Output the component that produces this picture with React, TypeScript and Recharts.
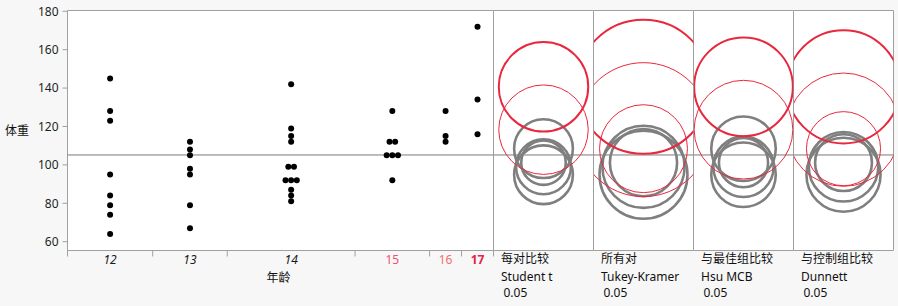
import React from 'react';
import {
  ComposedChart,
  Scatter,
  XAxis,
  YAxis,
  ReferenceLine,
  ReferenceArea,
  CartesianGrid,
  Label,
} from 'recharts';

// ---------- data ----------
const ages = ['12', '13', '14', '15', '16', '17'];
const weights12 = [145, 128, 123, 95, 84, 79, 74, 64];
const weights13 = [112, 108, 105, 98, 95, 79, 67];
const weights14 = [142, 119, 115, 112, 99, 99, 92, 92, 92, 87, 84, 81];
const weights15 = [128, 112, 112, 105, 105, 105, 92];
const weights16 = [128, 115, 112];
const weights17 = [172, 134, 116];
const weightsByAge = [weights12, weights13, weights14, weights15, weights16, weights17];

const yTicks = [60, 80, 100, 120, 140, 160, 180];
const yMin = 55.4;
const yMax = 180.4;

const panelTitles = ['每对比较', '所有对', '与最佳组比较', '与控制组比较'];
const panelMethods = ['Student t', 'Tukey-Kramer', 'Hsu MCB', 'Dunnett'];
const panelAlpha = ['0.05', '0.05', '0.05', '0.05'];

// circle radii (weight units), per age group
const radiusStudent = [14.3, 15.3, 11.6, 15.3, 23.3, 23.3];
const radiusTukey = [21.4, 22.9, 17.5, 22.9, 34.9, 34.9];
const radiusHsu = [15.7, 16.8, 12.8, 16.8, 25.7, 25.7];
const radiusDunnett = [18.1, 19.3, 14.8, 19.3, 29.5, 29.5];
const panelRadii = [radiusStudent, radiusTukey, radiusHsu, radiusDunnett];

// circle state per age group: gray = significantly different, thin = not different, thick = selected
const statusStudent = ['gray', 'gray', 'gray', 'gray', 'thin', 'thick'];
const statusTukey = ['gray', 'gray', 'gray', 'thin', 'thin', 'thick'];
const statusHsu = ['gray', 'gray', 'gray', 'gray', 'thin', 'thick'];
const statusDunnett = ['gray', 'gray', 'gray', 'thin', 'thin', 'thick'];
const panelStatus = [statusStudent, statusTukey, statusHsu, statusDunnett];

// ---------- styles ----------
const labelColors = ['#1a1a1a', '#1a1a1a', '#1a1a1a', '#F0506E', '#F07070', '#E8204A'];
const labelStyles = ['italic', 'italic', 'italic', 'normal', 'normal', 'normal'];
const labelWeights = ['normal', 'normal', 'normal', 'normal', 'normal', 'bold'];

const FONT = "'Noto Sans', 'Noto Sans CJK SC', sans-serif";
const FRAME = '#a0a0a0';
const RED = '#E8283E';
const GRAY = '#7f7f7f';

const H = 306;
const M_TOP = 10.5;
const M_BOTTOM = 15.5;
const XAXIS_H = 40;
const PLOT_H = H - M_TOP - M_BOTTOM - XAXIS_H;
const PPU = PLOT_H / (yMax - yMin);

// ---------- derived ----------
const counts = weightsByAge.map((w) => w.length);
const total = counts.reduce((a, b) => a + b, 0);
const boundaries: number[] = [0];
counts.forEach((c) => boundaries.push(boundaries[boundaries.length - 1] + c));
const centers = counts.map((c, i) => boundaries[i] + c / 2);
const groupMeans = weightsByAge.map((w) => w.reduce((a, b) => a + b, 0) / w.length);
const grandMean = weightsByAge.flat().reduce((a, b) => a + b, 0) / total;

const TIE_SPACING = 0.53;
const points: { x: number; y: number }[] = [];
weightsByAge.forEach((w, gi) => {
  const seen: Record<number, number> = {};
  const cnt: Record<number, number> = {};
  w.forEach((v) => (cnt[v] = (cnt[v] || 0) + 1));
  w.forEach((v) => {
    const j = seen[v] || 0;
    seen[v] = j + 1;
    const off = (j - (cnt[v] - 1) / 2) * TIE_SPACING;
    points.push({ x: centers[gi] + off, y: v });
  });
});

const xTicks = [...boundaries, ...centers].sort((a, b) => a - b);

const order: Record<string, number> = { gray: 0, thin: 1, thick: 2 };
const panelData = panelRadii.map((radii, p) =>
  ages
    .map((a, i) => ({ x: 0, y: groupMeans[i], r: radii[i], status: panelStatus[p][i], age: a }))
    .sort((u, v) => order[u.status] - order[v.status])
);

// ---------- components ----------
const XTick = (props: any) => {
  const { x, y, payload } = props;
  const v = payload.value;
  const bi = boundaries.findIndex((b) => Math.abs(b - v) < 1e-9);
  if (bi >= 0) {
    return <line x1={x} x2={x} y1={y} y2={y + 6} stroke={FRAME} strokeWidth={1} />;
  }
  const ci = centers.findIndex((c) => Math.abs(c - v) < 1e-9);
  return (
    <text
      x={x}
      y={y + 13.5}
      textAnchor="middle"
      fontSize={12}
      fontFamily={FONT}
      fill={labelColors[ci]}
      fontStyle={labelStyles[ci]}
      fontWeight={labelWeights[ci]}
    >
      {ages[ci]}
    </text>
  );
};

const Dot = (props: any) => <circle cx={props.cx} cy={props.cy} r={3} fill="#000" />;

const Ring = (props: any) => {
  const { cx, cy, payload } = props;
  const r = payload.r * PPU;
  const s = payload.status;
  const stroke = s === 'gray' ? GRAY : RED;
  const sw = s === 'gray' ? 2.6 : s === 'thick' ? 2 : 1;
  return <circle cx={cx} cy={cy} r={r} fill="none" stroke={stroke} strokeWidth={sw} />;
};

const Panel = ({ p }: { p: number }) => (
  <div
    style={{
      position: 'absolute',
      left: 493 + 100 * p,
      top: 0,
      width: 101,
      height: H,
      overflow: 'hidden',
    }}
  >
    <ComposedChart
      width={101}
      height={H}
      margin={{ top: M_TOP, right: 0.5, bottom: M_BOTTOM, left: 0.5 }}
    >
      <CartesianGrid fill="#ffffff" horizontal={false} vertical={false} />
      <XAxis
        dataKey="x"
        type="number"
        domain={[-1, 1]}
        allowDataOverflow
        tick={false}
        tickLine={false}
        axisLine={false}
        height={XAXIS_H}
      >
        <Label
          content={(lp: any) => {
            const vb = lp.viewBox;
            return (
              <g fontFamily={FONT} fontSize={12} fill="#111">
                <text x={vb.x + 7.5} y={vb.y + 12.5}>{panelTitles[p]}</text>
                <text x={vb.x + 7.5} y={vb.y + 30}>{panelMethods[p]}</text>
                <text x={vb.x + 10} y={vb.y + 46}>{panelAlpha[p]}</text>
              </g>
            );
          }}
        />
      </XAxis>
      <YAxis dataKey="y" type="number" domain={[yMin, yMax]} allowDataOverflow hide />
      <ReferenceLine y={grandMean} stroke="#7a7a7a" strokeWidth={1} />
      <Scatter data={panelData[p]} shape={Ring} isAnimationActive={false} />
      <ReferenceArea x1={-1} x2={1} y1={yMin} y2={yMax} fill="none" stroke={FRAME} strokeWidth={1} />
    </ComposedChart>
  </div>
);

export default function App() {
  return (
    <div
      style={{
        position: 'fixed',
        left: 0,
        top: 0,
        width: 898,
        height: H,
        background: '#F7F7F7',
        overflow: 'hidden',
        fontFamily: FONT,
      }}
    >
      {[3, 2, 1, 0].map((p) => (
        <Panel key={p} p={p} />
      ))}
      <div style={{ position: 'absolute', left: 0, top: 0, width: 495, height: H }}>
        <ComposedChart
          width={495}
          height={H}
          margin={{ top: M_TOP, right: 1.5, bottom: M_BOTTOM, left: 5 }}
        >
          <CartesianGrid fill="#ffffff" horizontal={false} vertical={false} />
          <XAxis
            dataKey="x"
            type="number"
            domain={[0, total]}
            allowDataOverflow
            ticks={xTicks}
            interval={0}
            tick={<XTick />}
            tickLine={false}
            tickSize={0}
            tickMargin={0}
            axisLine={false}
            height={XAXIS_H}
          >
            <Label
              content={(lp: any) => {
                const vb = lp.viewBox;
                return (
                  <text
                    x={vb.x + vb.width / 2 - 2}
                    y={vb.y + 31}
                    textAnchor="middle"
                    fontFamily={FONT}
                    fontSize={12}
                    fill="#111"
                  >
                    年龄
                  </text>
                );
              }}
            />
          </XAxis>
          <YAxis
            dataKey="y"
            type="number"
            domain={[yMin, yMax]}
            allowDataOverflow
            ticks={yTicks}
            interval={0}
            width={62.5}
            tickSize={5}
            tickMargin={4}
            tickLine={{ stroke: FRAME }}
            axisLine={false}
            tick={{ fontSize: 12, fontFamily: FONT, fill: '#1f1f1f' }}
          >
            <Label
              content={(lp: any) => {
                const vb = lp.viewBox;
                return (
                  <text x={5} y={vb.y + vb.height / 2 + 4.5} fontFamily={FONT} fontSize={12} fill="#111">
                    体重
                  </text>
                );
              }}
            />
          </YAxis>
          <ReferenceLine y={grandMean} stroke="#7a7a7a" strokeWidth={1} />
          <ReferenceArea x1={0} x2={total} y1={yMin} y2={yMax} fill="none" stroke={FRAME} strokeWidth={1} />
          <Scatter data={points} shape={Dot} isAnimationActive={false} />
        </ComposedChart>
      </div>
    </div>
  );
}
